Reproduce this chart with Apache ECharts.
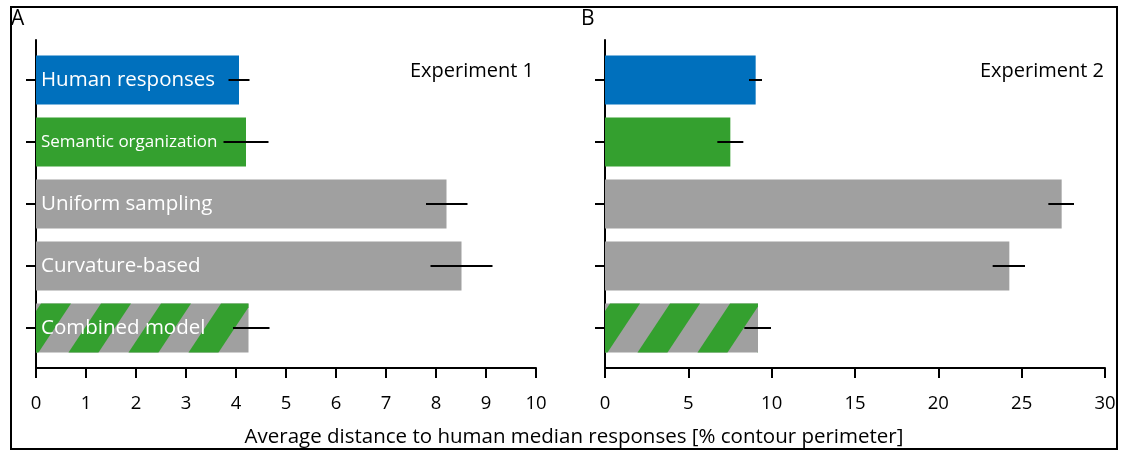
<!DOCTYPE html>
<html>
<head>
<meta charset="utf-8">
<script src="https://cdn.jsdelivr.net/npm/echarts@6/dist/echarts.min.js"></script>
<style>html,body{margin:0;padding:0;background:#fff;}#c{width:1131px;height:451px;}</style>
</head>
<body>
<div id="c"></div>
<script>
// ---- data ----
const categories = ['Human responses', 'Semantic organization', 'Uniform sampling', 'Curvature-based', 'Combined model'];
const exp1Values = [4.06, 4.20, 8.21, 8.51, 4.25];
const exp1Low    = [3.85, 3.75, 7.80, 7.89, 3.94];
const exp1High   = [4.27, 4.65, 8.63, 9.13, 4.67];
const exp2Values = [9.04, 7.52, 27.40, 24.26, 9.18];
const exp2Low    = [8.64, 6.74, 26.60, 23.26, 8.36];
const exp2High   = [9.42, 8.30, 28.14, 25.20, 9.96];
const exp1Axis = { min: 0, max: 10, interval: 1 };
const exp2Axis = { min: 0, max: 30, interval: 5 };
const panelTitles = ['Experiment 1', 'Experiment 2'];
const panelLetters = ['A', 'B'];
const axisTitle = 'Average distance to human median responses [% contour perimeter]';

// ---- styles ----
const FONT = "'Open Sans', sans-serif";
const BLUE = '#0070bd', GREEN = '#34a02f', GREY = '#a0a0a0';
const barKind = ['blue', 'green', 'grey', 'grey', 'hatch'];
const labelSizes = [20.5, 17, 20.5, 20.5, 20.5];

function clipX(poly, xmin, xmax) {
  function clip(pts, inside, inter) {
    const out = [];
    for (let i = 0; i < pts.length; i++) {
      const a = pts[i], b = pts[(i + 1) % pts.length];
      const ia = inside(a), ib = inside(b);
      if (ia) out.push(a);
      if (ia !== ib) out.push(inter(a, b));
    }
    return out;
  }
  const interAt = x => (a, b) => { const t = (x - a[0]) / (b[0] - a[0]); return [x, a[1] + t * (b[1] - a[1])]; };
  let p = clip(poly, q => q[0] >= xmin, interAt(xmin));
  if (p.length) p = clip(p, q => q[0] <= xmax, interAt(xmax));
  return p;
}

function makeRender(showLabels) {
  return function (params, api) {
    const idx = api.value(0), v = api.value(1), lo = api.value(2), hi = api.value(3);
    const p0 = api.coord([0, idx]);
    const p1 = api.coord([v, idx]);
    const pl = api.coord([lo, idx]);
    const ph = api.coord([hi, idx]);
    const bh = api.size([0, 1])[1] * 0.79;
    const y0 = p0[1] - bh / 2, y1 = p0[1] + bh / 2;
    const kind = barKind[idx];
    const children = [];
    const fill = kind === 'blue' ? BLUE : kind === 'green' ? GREEN : GREY;
    children.push({ type: 'rect', shape: { x: p0[0], y: y0, width: p1[0] - p0[0], height: bh }, style: { fill: fill } });
    if (kind === 'hatch') {
      const period = 60, w = 30, slant = 32.5, phase = 5;
      for (let k = -1; k * period < (p1[0] - p0[0]) + 60; k++) {
        const s = p0[0] + phase + k * period;
        const poly = [[s, y0], [s + w, y0], [s + w - slant, y1], [s - slant, y1]];
        const c = clipX(poly, p0[0], p1[0]);
        if (c.length >= 3) children.push({ type: 'polygon', shape: { points: c }, style: { fill: GREEN } });
      }
    }
    // y tick
    children.push({ type: 'line', shape: { x1: p0[0] - 10, y1: p0[1], x2: p0[0], y2: p0[1] }, style: { stroke: '#000', lineWidth: 2 } });
    if (showLabels) {
      children.push({ type: 'text', x: p0[0] + 5, y: p0[1], style: { text: categories[idx], fill: '#fff', font: labelSizes[idx] + 'px ' + FONT, textAlign: 'left', textVerticalAlign: 'middle' } });
    }
    // error bar
    children.push({ type: 'line', shape: { x1: pl[0], y1: p0[1], x2: ph[0], y2: p0[1] }, style: { stroke: '#000', lineWidth: 2 } });
    return { type: 'group', children: children };
  };
}

const chart = echarts.init(document.getElementById('c'), null, { renderer: 'canvas' });

function xAxisFor(gi, ax) {
  return {
    type: 'value', gridIndex: gi, min: ax.min, max: ax.max, interval: ax.interval,
    axisLine: { show: true, onZero: false, lineStyle: { color: '#000', width: 2 } },
    axisTick: { show: true, inside: false, length: 10, lineStyle: { color: '#000', width: 2 } },
    axisLabel: { show: true, color: '#000', fontSize: 18.5, fontFamily: FONT, margin: 26 },
    splitLine: { show: false }
  };
}
function yAxisFor(gi) {
  return {
    type: 'value', gridIndex: gi, inverse: true, min: -0.645, max: 4.645,
    axisLine: { show: true, onZero: false, lineStyle: { color: '#000', width: 2 } },
    axisTick: { show: false }, axisLabel: { show: false }, splitLine: { show: false }
  };
}

const data1 = categories.map((c, i) => [i, exp1Values[i], exp1Low[i], exp1High[i]]);
const data2 = categories.map((c, i) => [i, exp2Values[i], exp2Low[i], exp2High[i]]);

chart.setOption({
  animation: false,
  backgroundColor: '#fff',
  grid: [
    { left: 36, top: 40, width: 500, height: 328 },
    { left: 605, top: 40, width: 500, height: 328 }
  ],
  xAxis: [xAxisFor(0, exp1Axis), xAxisFor(1, exp2Axis)],
  yAxis: [yAxisFor(0), yAxisFor(1)],
  series: [
    { type: 'custom', xAxisIndex: 0, yAxisIndex: 0, data: data1, encode: { x: [1, 2, 3], y: 0 }, renderItem: makeRender(true), z: 3 },
    { type: 'custom', xAxisIndex: 1, yAxisIndex: 1, data: data2, encode: { x: [1, 2, 3], y: 0 }, renderItem: makeRender(false), z: 3 }
  ],
  graphic: [
    { type: 'rect', shape: { x: 11, y: 7, width: 1106, height: 442 }, style: { fill: 'none', stroke: '#000', lineWidth: 2 }, z: 0 },
    { type: 'text', x: 11, y: 19, style: { text: panelLetters[0], font: '21px ' + FONT, fill: '#000', textVerticalAlign: 'middle' } },
    { type: 'text', x: 581, y: 19, style: { text: panelLetters[1], font: '21px ' + FONT, fill: '#000', textVerticalAlign: 'middle' } },
    { type: 'text', x: 534, y: 71, style: { text: panelTitles[0], font: '20px ' + FONT, fill: '#000', textAlign: 'right', textVerticalAlign: 'middle' } },
    { type: 'text', x: 1104, y: 71, style: { text: panelTitles[1], font: '20px ' + FONT, fill: '#000', textAlign: 'right', textVerticalAlign: 'middle' } },
    { type: 'text', x: 574, y: 437, style: { text: axisTitle, font: '20.5px ' + FONT, fill: '#000', textAlign: 'center', textVerticalAlign: 'middle' } }
  ]
});
</script>
</body>
</html>
